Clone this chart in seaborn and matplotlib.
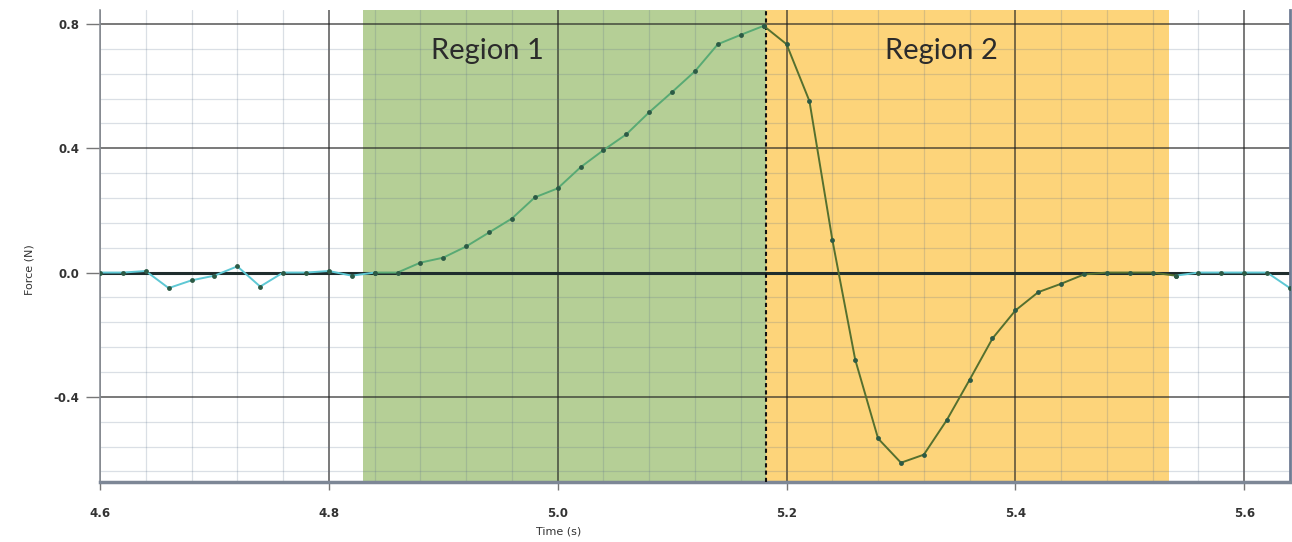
import numpy as np
import pandas as pd
import seaborn as sns
import matplotlib.pyplot as plt
from matplotlib.ticker import MultipleLocator, FormatStrFormatter

sns.set_theme(style='white')

# force sensor readings, one every 0.02 s
time_s = [4.60, 4.62, 4.64, 4.66, 4.68, 4.70, 4.72, 4.74, 4.76, 4.78,
          4.80, 4.82, 4.84, 4.86, 4.88, 4.90, 4.92, 4.94, 4.96, 4.98,
          5.00, 5.02, 5.04, 5.06, 5.08, 5.10, 5.12, 5.14, 5.16, 5.18,
          5.20, 5.22, 5.24, 5.26, 5.28, 5.30, 5.32, 5.34, 5.36, 5.38,
          5.40, 5.42, 5.44, 5.46, 5.48, 5.50, 5.52, 5.54, 5.56, 5.58,
          5.60, 5.62, 5.64]
force_n = [0.0, 0.0, 0.005, -0.05, -0.025, -0.01, 0.02, -0.045, 0.0, 0.0,
           0.005, -0.01, 0.0, 0.0, 0.032, 0.048, 0.084, 0.129, 0.174, 0.242,
           0.271, 0.339, 0.394, 0.445, 0.516, 0.581, 0.648, 0.735, 0.765, 0.794,
           0.735, 0.552, 0.106, -0.28, -0.534, -0.612, -0.586, -0.475, -0.345, -0.212,
           -0.122, -0.063, -0.036, -0.006, 0.0, 0.0, 0.0, -0.01, 0.0, 0.0,
           0.0, 0.0, -0.05]

region_names = ['Region 1', 'Region 2']
region_start = [4.83, 5.182]
region_end = [5.182, 5.534]
region_colors = ['#b5cf96', '#fdd47a']

# line pieces (end points shared so the line stays joined)
seg_names = ['pre', 'r1', 'r2', 'post']
seg_from = [4.60, 4.84, 5.18, 5.54]
seg_to = [4.84, 5.18, 5.54, 5.64]
seg_colors = {'pre': '#5ec8d4', 'r1': '#58aa74', 'r2': '#55702f', 'post': '#5ec8d4'}

df = pd.DataFrame({'time': time_s, 'force': force_n})
parts = []
for name, a, b in zip(seg_names, seg_from, seg_to):
    p = df[(df.time > a - 1e-6) & (df.time < b + 1e-6)].copy()
    p['segment'] = name
    parts.append(p)
lines = pd.concat(parts, ignore_index=True)

fig = plt.figure(figsize=(12.92, 5.42), dpi=100)
ax = fig.add_axes([100/1292, 60/542, 1190/1292, 472/542])

for s, e, c in zip(region_start, region_end, region_colors):
    ax.axvspan(s, e, color=c, zorder=0.2, lw=0)

ax.set_axisbelow(True)
ax.xaxis.set_major_locator(MultipleLocator(0.2))
ax.xaxis.set_minor_locator(MultipleLocator(0.04))
ax.yaxis.set_major_locator(MultipleLocator(0.4))
ax.yaxis.set_minor_locator(MultipleLocator(0.08))
ax.xaxis.set_major_formatter(FormatStrFormatter('%.1f'))
ax.yaxis.set_major_formatter(FormatStrFormatter('%.1f'))
ax.grid(which='major', color='#202020', alpha=0.7, lw=1.2)
ax.grid(which='minor', color='#5a6e8c', alpha=0.22, lw=0.9)

ax.axhline(0, color='#1f2d2d', lw=2.2, zorder=1)
ax.axvline(region_end[0], color='#111111', lw=1.5, ls=(0, (2, 1.5)), zorder=3)

sns.lineplot(data=lines, x='time', y='force', hue='segment', palette=seg_colors,
             sort=False, estimator=None, legend=False, ax=ax, lw=1.4,
             marker='o', markersize=3.5, markerfacecolor='#2c5a45',
             markeredgewidth=0, zorder=4)

# label centres inside each shaded band
label_x = [4.939, 5.335]
for name, x in zip(region_names, label_x):
    ax.text(x, 0.713, name, ha='center', va='center', fontsize=21,
            family='Lato', color='#2b2b2b', zorder=5)

ax.set_xlim(4.6, 5.64)
ax.set_ylim(-0.674, 0.845)

ax.spines['top'].set_visible(False)
ax.spines['left'].set_color('#8a8f96')
ax.spines['left'].set_linewidth(1.2)
ax.spines['bottom'].set_color('#7d8796')
ax.spines['bottom'].set_linewidth(2.5)
ax.spines['right'].set_color('#6f7c94')
ax.spines['right'].set_linewidth(2)

ax.tick_params(axis='y', which='major', left=True, length=10, width=1, color='#777777',
               pad=5, labelsize=8.5, labelcolor='#333333')
ax.tick_params(axis='x', which='major', bottom=True, length=6, width=1, color='#777777',
               pad=12, labelsize=8.5, labelcolor='#333333')
ax.tick_params(which='minor', length=0)
for lab in ax.get_xticklabels() + ax.get_yticklabels():
    lab.set_fontweight('bold')

ax.set_xlabel('Time (s)', fontsize=8, color='#333333')
ax.set_ylabel('Force (N)', fontsize=8, color='#333333')
ax.xaxis.set_label_coords(0.385, -0.095)
ax.yaxis.set_label_coords(-0.055, 0.449)

fig.savefig('out.png', dpi=100)
